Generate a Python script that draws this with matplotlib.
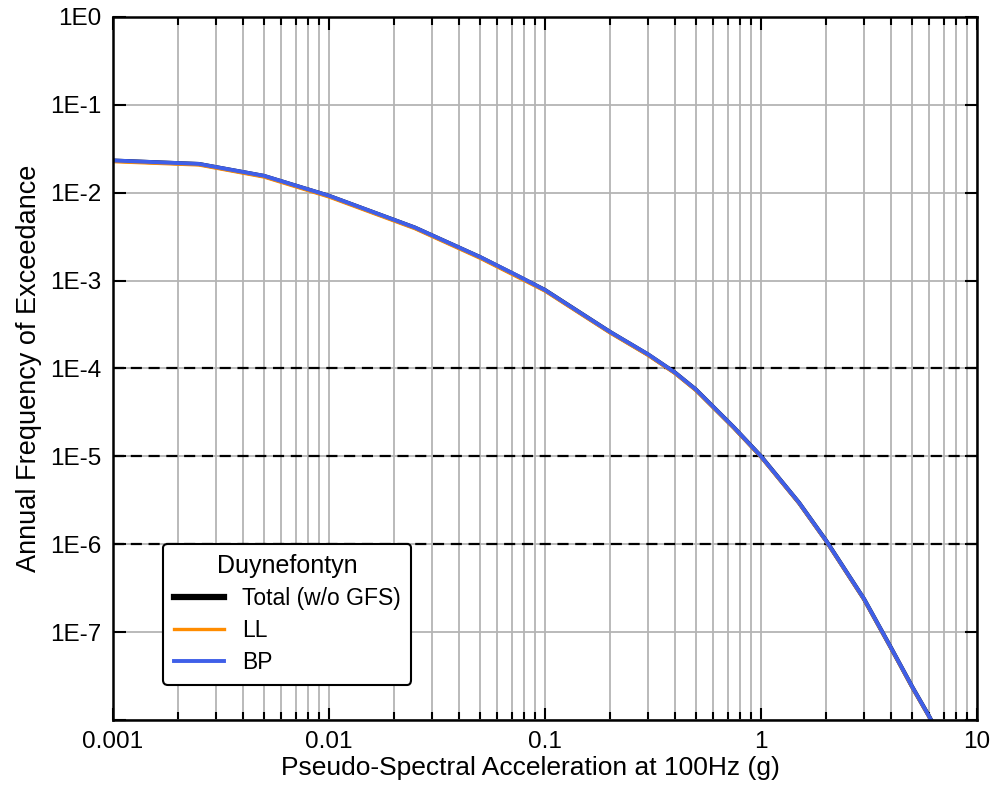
import math
import matplotlib
matplotlib.use("Agg")
import matplotlib.pyplot as plt
from matplotlib.ticker import FixedLocator, FuncFormatter, LogLocator, NullFormatter

plt.rcParams['font.family'] = ['Liberation Sans', 'DejaVu Sans']

# Data
psa = [0.001, 0.0025, 0.005, 0.01, 0.025, 0.05, 0.075, 0.1, 0.15, 0.2, 0.3, 0.4,
       0.5, 0.75, 1.0, 1.5, 2.0, 3.0, 4.0, 5.0, 6.0, 7.0]
total = [2.32e-2, 2.12e-2, 1.55e-2, 9.2e-3, 4.0e-3, 1.85e-3, 1.12e-3, 7.8e-4, 4.1e-4,
         2.6e-4, 1.44e-4, 8.95e-5, 5.73e-5, 2.12e-5, 1.0e-5, 2.96e-6, 1.1e-6, 2.37e-7,
         6.6e-8, 2.4e-8, 1.1e-8, 5.4e-9]
ll = [2.26e-2, 2.07e-2, 1.51e-2, 8.95e-3, 3.9e-3, 1.80e-3, 1.09e-3, 7.6e-4, 4.0e-4,
      2.54e-4, 1.41e-4, 8.75e-5, 5.6e-5, 2.08e-5, 9.8e-6, 2.91e-6, 1.08e-6, 2.33e-7,
      6.5e-8, 2.36e-8, 1.08e-8, 5.3e-9]
bp = [2.33e-2, 2.13e-2, 1.56e-2, 9.25e-3, 4.02e-3, 1.86e-3, 1.13e-3, 7.82e-4, 4.11e-4,
      2.61e-4, 1.45e-4, 8.97e-5, 5.75e-5, 2.13e-5, 1.0e-5, 2.97e-6, 1.1e-6, 2.38e-7,
      6.62e-8, 2.41e-8, 1.1e-8, 5.4e-9]
ref_levels = [1e-4, 1e-5, 1e-6]
y_exponents = [0, -1, -2, -3, -4, -5, -6, -7, -8]
x_ticks = [0.001, 0.01, 0.1, 1, 10]
x_ticklabels = ['0.001', '0.01', '0.1', '1', '10']
legend_title = 'Duynefontyn'
series_names = ['Total (w/o GFS)', 'LL', 'BP']

fig = plt.figure(figsize=(9.97, 7.94), dpi=100)
ax = fig.add_axes([0.1133, 0.0932, 0.8667, 0.8854])

ax.set_xscale('log')
ax.set_yscale('log')
ax.set_xlim(1e-3, 10)
ax.set_ylim(1e-8, 1)

# grid
ax.xaxis.set_minor_locator(LogLocator(base=10, subs=range(2, 10), numticks=20))
ax.xaxis.set_minor_formatter(NullFormatter())
ax.grid(True, which='major', axis='both', color='#b4b4b4', lw=1.3)
ax.grid(True, which='minor', axis='x', color='#b4b4b4', lw=1.3)
ax.set_axisbelow(True)

for lv in ref_levels:
    ax.axhline(lv, color='black', lw=1.6, ls=(0, (5, 3)), zorder=1.5)

ax.plot(psa, total, color='black', lw=3.0, label=series_names[0], zorder=3)
ax.plot(psa, ll, color='#ff8c00', lw=2.4, label=series_names[1], zorder=4)
ax.plot(psa, bp, color='#3f5fe8', lw=2.8, label=series_names[2], zorder=5)

ax.set_xticks(x_ticks)
ax.set_xticklabels(x_ticklabels)
ax.yaxis.set_major_locator(FixedLocator([10.0 ** e for e in y_exponents]))
ax.yaxis.set_minor_locator(FixedLocator([]))
ax.yaxis.set_major_formatter(FuncFormatter(
    lambda v, p: '' if v < 5e-8 else '1E' + str(int(round(math.log10(v))))))

ax.tick_params(axis='both', which='both', direction='in', top=True, right=True,
               labelsize=17.5, colors='black', width=1.5)
ax.tick_params(axis='both', which='major', length=9, pad=8)
ax.tick_params(axis='x', which='minor', length=6)
for s in ax.spines.values():
    s.set_linewidth(1.8)
    s.set_zorder(6)

ax.set_xlabel('Pseudo-Spectral Acceleration at 100Hz (g)', fontsize=19, labelpad=2)
ax.xaxis.label.set_x(0.483)
ax.set_ylabel('Annual Frequency of Exceedance', fontsize=19.5, labelpad=6)

leg = ax.legend(loc='lower left', bbox_to_anchor=(0.045, 0.034), title=legend_title,
                fontsize=16.5, title_fontsize=18, frameon=True, fancybox=True,
                edgecolor='black', framealpha=1, handlelength=2.2,
                borderpad=0.45, labelspacing=0.4, handletextpad=0.8)
leg.get_frame().set_linewidth(1.5)
leg.set_zorder(10)
leg.get_lines()[0].set_linewidth(4.5)

fig.savefig('out.png', dpi=100)
